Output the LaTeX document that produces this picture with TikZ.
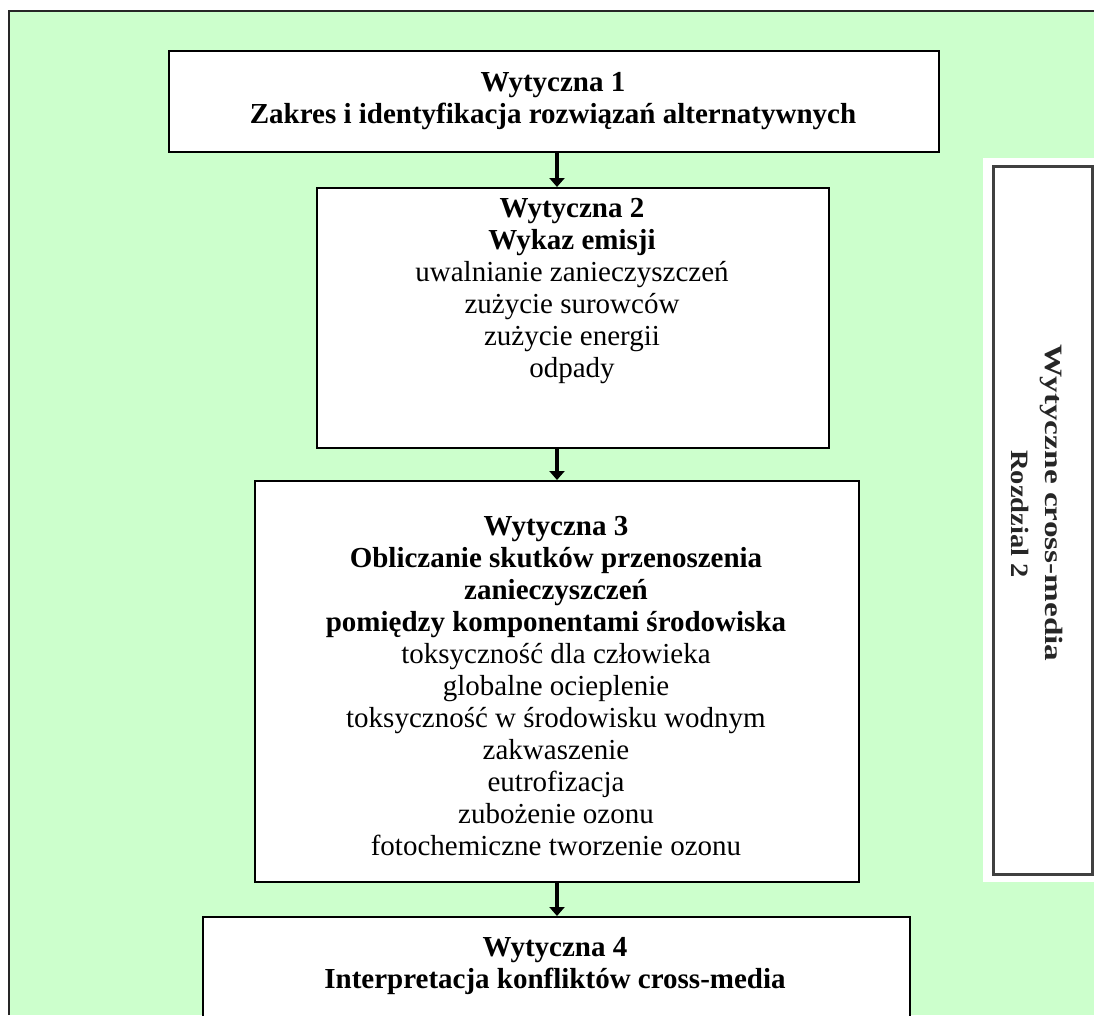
\documentclass[tikz,border=0pt]{standalone}
\usepackage{fontspec}
\usepackage{graphicx}
\setmainfont{Liberation Serif}
\usetikzlibrary{arrows.meta}
\definecolor{bggreen}{HTML}{CCFFCC}
\newcommand\mainsize{\fontsize{29}{32}\selectfont}
\begin{document}
\begin{tikzpicture}[x=1pt,y=-1pt,
  boxnode/.style={draw=black, line width=2pt, fill=white, inner sep=0pt, anchor=north west},
  txt/.style={align=center, inner sep=0pt, anchor=north, font=\mainsize},
  sidetxt/.style={rotate=-90, inner sep=0pt, font=\fontsize{25}{28}\selectfont\bfseries, text=black!85},
  arr/.style={line width=4.5pt, -{Triangle[width=15pt,length=9pt]}}]
\useasboundingbox (0,0) rectangle (1094,1015);
\fill[white] (0,0) rectangle (1094,1015);
\fill[bggreen] (9,11) rectangle (1094,1015);
\draw[line width=1.5pt, black!85] (9,1015) -- (9,11) -- (1094,11);
% right side panel
\fill[white] (983,158) rectangle (1094,882);
\node[boxnode, draw=black!75, line width=3pt, minimum width=99.5pt, minimum height=708pt] (rb) at (991.5,165) {};
\node[sidetxt] (rt1) at (1051,503) {\scalebox{1.33}[1]{Wytyczne cross-media}};
\node[sidetxt] (rt2) at (1020,514) {\scalebox{1.14}[1]{Rozdzial 2}};
% main boxes
\node[boxnode, minimum width=770pt, minimum height=101pt] (b1) at (168,50) {};
\node[boxnode, minimum width=512pt, minimum height=260pt] (b2) at (316,187) {};
\node[boxnode, minimum width=604pt, minimum height=401pt] (b3) at (254,480) {};
\node[boxnode, minimum width=707pt, minimum height=100pt] (b4) at (202,916) {};
% texts
\node[txt, font=\mainsize\bfseries] (t1) at (553,72) {Wytyczna 1\\Zakres i identyfikacja rozwiązań alternatywnych};
\node[txt] (t2) at (572,198) {\textbf{Wytyczna 2}\\\textbf{Wykaz emisji}\\uwalnianie zanieczyszczeń\\zużycie surowców\\zużycie energii\\odpady};
\node[txt] (t3) at (556,516) {\textbf{Wytyczna 3}\\\textbf{Obliczanie skutków przenoszenia}\\\textbf{zanieczyszczeń}\\\textbf{pomiędzy komponentami środowiska}\\toksyczność dla człowieka\\globalne ocieplenie\\toksyczność w środowisku wodnym\\zakwaszenie\\eutrofizacja\\zubożenie ozonu\\fotochemiczne tworzenie ozonu};
\node[txt, font=\mainsize\bfseries] (t4) at (555,937) {Wytyczna 4\\Interpretacja konfliktów cross-media};
% arrows
\draw[arr] (b1.south -| b3.north) -- (b2.north -| b3.north);
\draw[arr] (b2.south -| b3.north) -- (b3.north);
\draw[arr] (b3.south) -- (b4.north -| b3.south);
\end{tikzpicture}
\end{document}
